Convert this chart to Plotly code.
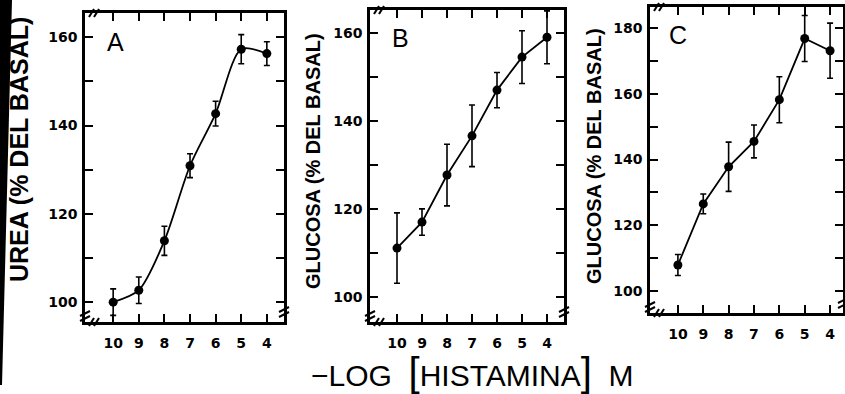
import plotly.graph_objects as go

W, H = 845, 394

# ---------------- data ----------------
log_conc = [10, 9, 8, 7, 6, 5, 4]

urea_A = [100, 102.7, 113.9, 130.9, 142.7, 157.3, 156.3]
urea_A_err = [3, 3, 3.3, 2.7, 2.8, 3.3, 2.7]

glucosa_B = [111.1, 117, 127.7, 136.6, 147, 154.5, 159]
glucosa_B_err = [8, 3, 7, 7, 4, 6, 6]

glucosa_C = [107.9, 126.5, 137.8, 145.5, 158.2, 176.8, 173.1]
glucosa_C_err = [3.2, 3, 7.5, 5, 7, 7, 8.4]

y_ticks_A = [100, 110, 120, 130, 140, 150, 160]
y_ticks_B = [100, 110, 120, 130, 140, 150, 160]
y_ticks_C = [100, 110, 120, 130, 140, 150, 160, 170, 180]

panel_letters = ["A", "B", "C"]
y_titles = ["UREA (% DEL BASAL)", "GLUCOSA (% DEL BASAL)", "GLUCOSA (% DEL BASAL)"]
x_title = ("\u2212LOG\u00a0\u00a0<span style='font-size:40px'>[</span>HISTAMINA"
           "<span style='font-size:40px'>]</span>\u00a0\u00a0M")

# ---------------- layout geometry (pixels) ----------------
panels = [
    dict(x0=85, x1=284, y0=13, y1=322, xr=[11.1, 3.33], yr=[95.5, 165.5], yt=y_ticks_A,
         y=urea_A, e=urea_A_err, shape="spline", tx=19, ty=150, tfs=25, lx=116, ly=42),
    dict(x0=370, x1=564, y0=10, y1=322, xr=[11.08, 3.32], yr=[94.3, 165.2], yt=y_ticks_B,
         y=glucosa_B, e=glucosa_B_err, shape="linear", tx=313, ty=161, tfs=20, lx=400, ly=38),
    dict(x0=650, x1=843, y0=7, y1=313, xr=[11.1, 3.49], yr=[93.3, 186.4], yt=y_ticks_C,
         y=glucosa_C, e=glucosa_C_err, shape="linear", tx=594, ty=156, tfs=20, lx=678, ly=35),
]

def px(x):
    return x / W

def py(y):
    return 1 - y / H

fig = go.Figure()
annotations = []
shapes = []

tickfont = dict(family="DejaVu Sans", size=14, color="black", weight="bold")

for i, p in enumerate(panels):
    n = "" if i == 0 else str(i + 1)
    fig.add_trace(go.Scatter(
        x=log_conc, y=p["y"],
        error_y=dict(type="data", array=p["e"], visible=True, color="black",
                     thickness=1.6, width=3),
        mode="lines+markers",
        line=dict(color="black", width=1.8, shape=p["shape"], smoothing=0.8),
        marker=dict(color="black", size=9),
        xaxis="x" + n, yaxis="y" + n, showlegend=False, cliponaxis=False,
    ))
    fig.layout["xaxis" + n] = dict(
        domain=[px(p["x0"]), px(p["x1"])], range=p["xr"], anchor="y" + n,
        tickmode="array", tickvals=log_conc, ticktext=[str(v) for v in log_conc],
        ticks="inside", ticklen=8, tickwidth=2, tickcolor="black",
        showline=True, linewidth=2.5, linecolor="black", mirror="ticks",
        showgrid=False, zeroline=False, tickfont=tickfont, ticklabelstandoff=6,
    )
    fig.layout["yaxis" + n] = dict(
        domain=[py(p["y1"]), py(p["y0"])], range=p["yr"], anchor="x" + n,
        tickmode="array", tickvals=p["yt"],
        ticktext=[str(v) if v % 20 == 0 else "" for v in p["yt"]],
        ticks="inside", ticklen=8, tickwidth=2, tickcolor="black",
        showline=True, linewidth=2.5, linecolor="black", mirror="ticks",
        showgrid=False, zeroline=False, tickfont=tickfont, ticklabelstandoff=2,
    )
    # y title
    annotations.append(dict(
        text=y_titles[i], textangle=-90, x=px(p["tx"]), y=py(p["ty"]),
        xref="paper", yref="paper", xanchor="center", yanchor="middle",
        showarrow=False,
        font=dict(family="Liberation Sans", size=p["tfs"], color="black", weight="bold"),
    ))
    # panel letter
    annotations.append(dict(
        text=panel_letters[i], x=px(p["lx"]), y=py(p["ly"]),
        xref="paper", yref="paper", xanchor="center", yanchor="middle",
        showarrow=False, font=dict(family="Liberation Sans", size=25, color="black"),
    ))
    # axis break marks
    breaks = [
        (p["x0"] + 9, p["y0"]),      # top axis, left
        (p["x0"] + 9, p["y1"]),      # bottom axis, left
    ]
    for bx, by in breaks:
        for d in (-2.5, 2.5):
            shapes.append(dict(type="line", xref="paper", yref="paper",
                               x0=px(bx + d - 2.5), y0=py(by + 4), x1=px(bx + d + 2.5), y1=py(by - 4),
                               line=dict(color="black", width=2)))
    vbreaks = [
        (p["x0"], p["y1"] - 6),      # left axis, bottom
        (p["x1"], p["y1"] - 10),     # right axis, bottom
    ]
    for bx, by in vbreaks:
        for d in (-2.5, 2.5):
            shapes.append(dict(type="line", xref="paper", yref="paper",
                               x0=px(bx - 5), y0=py(by + d + 2.5), x1=px(bx + 5), y1=py(by + d - 2.5),
                               line=dict(color="black", width=2)))

# common x title
annotations.append(dict(
    text=x_title, x=px(472), y=py(372), xref="paper", yref="paper",
    xanchor="center", yanchor="middle", showarrow=False,
    font=dict(family="Liberation Sans", size=30, color="black"),
))

# dark scan edge on the left
shapes.append(dict(type="path", xref="paper", yref="paper",
                   path=f"M 0 1 L {px(12)} 1 L {px(2)} {py(385)} L 0 {py(385)} Z",
                   fillcolor="black", line=dict(width=0)))

fig.update_layout(
    width=W, height=H, margin=dict(l=0, r=0, t=0, b=0),
    paper_bgcolor="white", plot_bgcolor="white",
    annotations=annotations, shapes=shapes,
)

fig.write_html("out.html")
